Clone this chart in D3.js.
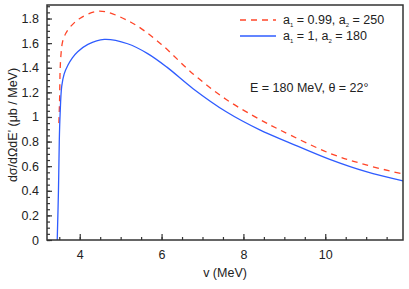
<!DOCTYPE html>
<html>
<head>
<meta charset="utf-8">
<script src="https://cdn.jsdelivr.net/npm/d3@7"></script>
<style>
	body { margin: 0; background: #fff; }
	svg text { font-family: "Liberation Sans", Arial, sans-serif; fill: #222; }
</style>
</head>
<body>
<svg id="svg"></svg>
<script>

// ---- data ---- //

const blueX = [3.45, 3.48, 3.5, 3.52, 3.56, 3.62, 3.71, 3.82, 3.95, 4.2, 4.6, 5.17, 5.66, 6.13, 6.77, 7.59, 8.4, 9.13, 10.11, 11.0, 11.9];
const blueY = [0, 0.4, 0.8, 1.02, 1.25, 1.35, 1.42, 1.48, 1.53, 1.59, 1.63, 1.595, 1.515, 1.405, 1.23, 1.04, 0.895, 0.79, 0.655, 0.555, 0.48];

const redX = [3.49, 3.5, 3.51, 3.52, 3.54, 3.58, 3.66, 3.79, 4.0, 4.48, 5.25, 5.96, 6.77, 7.59, 8.4, 8.89, 10.11, 11.0, 11.9];
const redY = [0.95, 1.05, 1.18, 1.37, 1.50, 1.61, 1.68, 1.74, 1.80, 1.86, 1.77, 1.60, 1.35, 1.14, 0.98, 0.895, 0.705, 0.61, 0.536];

const xTicks = [4, 6, 8, 10];
const yTicks = [0, 0.2, 0.4, 0.6, 0.8, 1, 1.2, 1.4, 1.6, 1.8];

// ---- layout ---- //

let width = 409,
	height = 289,
	m = [5, 6, 49, 47],  // top, right, bottom, left
	frame = "#333";

const svg = d3.select("svg#svg")
	.attr("width", width)
	.attr("height", height);

const xScale = d3.scaleLinear()
	.domain([3.2, 11.9])
	.range([m[3], width - m[1]]);

const yScale = d3.scaleLinear()
	.domain([0, 1.91])
	.range([height - m[2], m[0]]);

// minor ticks
const xAxisMinor = d3.axisBottom(xScale)
	.tickValues(d3.range(3.5, 11.9, 0.5))
	.tickSize(-3).tickFormat("");
const yAxisMinor = d3.axisLeft(yScale)
	.tickValues(d3.range(0, 1.91, 0.05))
	.tickSize(-3).tickFormat("");

svg.append("g")
	.attr("transform", `translate(0,${height - m[2]})`)
	.call(xAxisMinor);
svg.append("g")
	.attr("transform", `translate(${m[3]},0)`)
	.call(yAxisMinor);

// major ticks
const xAxis = d3.axisBottom(xScale)
	.tickValues(xTicks)
	.tickSize(-6).tickPadding(10)
	.tickFormat(d3.format("d"));
const yAxis = d3.axisLeft(yScale)
	.tickValues(yTicks)
	.tickSize(-5).tickPadding(8)
	.tickFormat(d => d3.format("~g")(d));

svg.append("g")
	.attr("transform", `translate(0,${height - m[2]})`)
	.call(xAxis);
svg.append("g")
	.attr("transform", `translate(${m[3]},0)`)
	.call(yAxis);

svg.selectAll(".tick line").attr("stroke", frame).attr("stroke-width", 1.2);
svg.selectAll(".domain").remove();
svg.selectAll(".tick text").attr("font-size", 12.5).attr("fill", "#222");

// curves
const line = d3.line()
	.x(d => xScale(d[0]))
	.y(d => yScale(d[1]))
	.curve(d3.curveCatmullRom.alpha(0.5));

const plot = svg.append("g");

plot.append("path")
	.datum(d3.zip(redX, redY))
	.attr("d", line)
	.attr("fill", "none")
	.attr("stroke", "#ff4528")
	.attr("stroke-width", 1.3)
	.attr("stroke-dasharray", "6,5");

plot.append("path")
	.datum(d3.zip(blueX, blueY))
	.attr("d", line)
	.attr("fill", "none")
	.attr("stroke", "#2f5cff")
	.attr("stroke-width", 1.3);

// frame
svg.append("rect")
	.attr("x", m[3])
	.attr("y", m[0])
	.attr("width", width - m[1] - m[3])
	.attr("height", height - m[0] - m[2])
	.attr("fill", "none")
	.attr("stroke", frame)
	.attr("stroke-width", 1.5);

// axis titles
svg.append("text")
	.text("v (MeV)")
	.attr("text-anchor", "middle")
	.attr("font-size", 12.5)
	.attr("x", 225)
	.attr("y", 277);

svg.append("text")
	.text("dσ/dΩdE' (μb / MeV)")
	.attr("text-anchor", "middle")
	.attr("font-size", 12.5)
	.attr("transform", "translate(17,125) rotate(-90)");

// legend
const legend = [
	{ a1: "0.99", a2: "250", color: "#ff4528", dash: "6,5", y: 20 },
	{ a1: "1", a2: "180", color: "#2f5cff", dash: null, y: 36 }
];

legend.forEach(d => {
	svg.append("line")
		.attr("x1", 240).attr("x2", 276)
		.attr("y1", d.y).attr("y2", d.y)
		.attr("stroke", d.color)
		.attr("stroke-width", 1.3)
		.attr("stroke-dasharray", d.dash);

	const t = svg.append("text")
		.attr("x", 283)
		.attr("y", d.y + 4)
		.attr("font-size", 12.5);
	t.append("tspan").text("a");
	t.append("tspan").text("1").attr("font-size", 6).attr("dy", 3);
	t.append("tspan").text(` = ${d.a1}, a`).attr("dy", -3);
	t.append("tspan").text("2").attr("font-size", 6).attr("dy", 3);
	t.append("tspan").text(` = ${d.a2}`).attr("dy", -3);
});

svg.append("text")
	.text("E = 180 MeV, θ = 22°")
	.attr("x", 250)
	.attr("y", 92)
	.attr("font-size", 12.5);

</script>
</body>
</html>
